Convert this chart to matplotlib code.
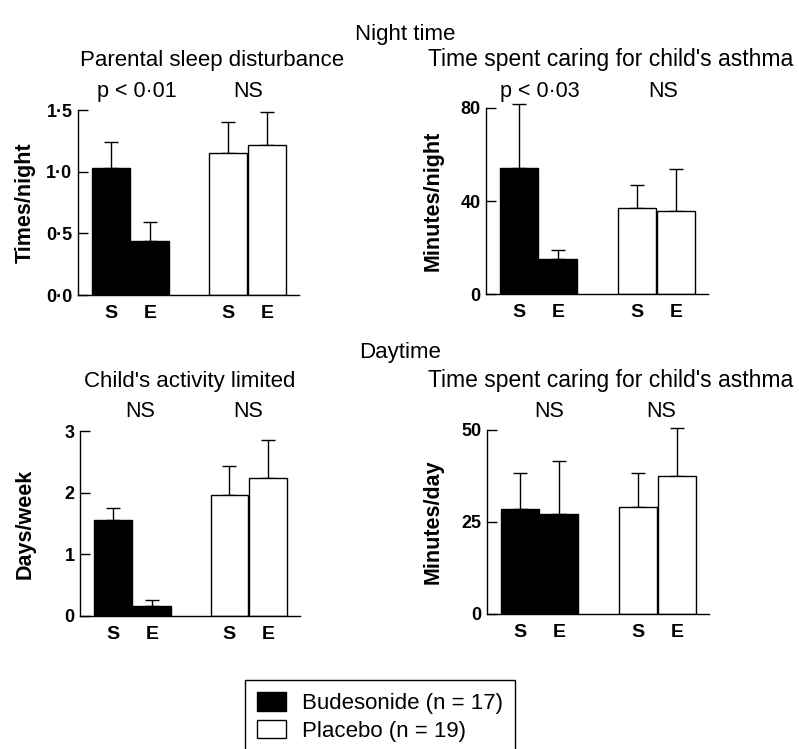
import matplotlib
matplotlib.use('Agg')
import matplotlib.pyplot as plt
import numpy as np

plt.rcParams['font.family'] = ['Liberation Sans', 'DejaVu Sans']

# ---------------- data ----------------
categories = ['S', 'E', 'S', 'E']
groups = ['Budesonide (n = 17)', 'Placebo (n = 19)']
bar_colors = ['black', 'black', 'white', 'white']

sleep_mean = [1.03, 0.435, 1.15, 1.22]
sleep_upper = [1.24, 0.59, 1.405, 1.48]
sleep_ticks = [0.0, 0.5, 1.0, 1.5]
sleep_ticklabels = ['0·0', '0·5', '1·0', '1·5']

night_care_mean = [54.4, 14.9, 36.8, 35.5]
night_care_upper = [81.9, 19.1, 46.7, 53.9]
night_care_ticks = [0, 40, 80]

activity_mean = [1.56, 0.17, 1.96, 2.23]
activity_upper = [1.75, 0.26, 2.44, 2.85]
activity_ticks = [0, 1, 2, 3]

day_care_mean = [28.6, 27.1, 29.1, 37.5]
day_care_upper = [38.2, 41.7, 38.3, 50.5]
day_care_ticks = [0, 25, 50]

W, H = 799, 749
fig = plt.figure(figsize=(W / 100, H / 100), dpi=100)

xpos = np.array([0, 1, 3, 4])


def panel(rect_px, mean, upper, ticks, ticklabels, ylim, ylabel, ylabel_x):
    x0, y0, x1, y1 = rect_px
    ax = fig.add_axes([x0 / W, 1 - y1 / H, (x1 - x0) / W, (y1 - y0) / H])
    bars = ax.bar(xpos, mean, width=0.97, color=bar_colors, edgecolor='black',
                  linewidth=1.0, zorder=2)
    lower = np.zeros(len(mean))
    up = np.array(upper) - np.array(mean)
    eb = ax.errorbar(xpos, mean, yerr=[lower, up], fmt='none', ecolor='black',
                     elinewidth=1.0, capsize=5, capthick=1.0, zorder=1)
    for art in eb.get_children():
        art.set_clip_on(False)
    ax.set_xlim(-0.85, 4.82)
    ax.set_ylim(*ylim)
    ax.spines['top'].set_visible(False)
    ax.spines['right'].set_visible(False)
    ax.spines['left'].set_linewidth(1.0)
    ax.spines['bottom'].set_linewidth(1.0)
    ax.set_yticks(ticks)
    ax.set_yticklabels(ticklabels)
    ax.tick_params(axis='y', direction='in', length=7.5, width=1.0, pad=4,
                   labelsize=13)
    ax.set_xticks(xpos)
    ax.set_xticklabels(categories)
    ax.tick_params(axis='x', length=0, pad=7, labelsize=14)
    for lab in ax.get_yticklabels() + ax.get_xticklabels():
        lab.set_fontweight('bold')
    cy = (y0 + y1) / 2
    fig.text(ylabel_x / W, 1 - cy / H, ylabel, rotation=90, ha='center',
             va='center', fontsize=15.5, fontweight='bold')
    return bars


b1 = panel((78, 110, 299, 295), sleep_mean, sleep_upper, sleep_ticks,
           sleep_ticklabels, (0, 1.5), 'Times/night', 25)
panel((486, 108, 708, 294), night_care_mean, night_care_upper,
      night_care_ticks, [str(t) for t in night_care_ticks], (0, 80),
      'Minutes/night', 433)
panel((80, 431, 300, 616), activity_mean, activity_upper, activity_ticks,
      [str(t) for t in activity_ticks], (0, 3), 'Days/week', 25)
panel((487, 430, 709, 614), day_care_mean, day_care_upper, day_care_ticks,
      [str(t) for t in day_care_ticks], (0, 50), 'Minutes/day', 433)


def ftext(x, y, s, ha='center', size=16, weight='normal'):
    fig.text(x / W, 1 - y / H, s, ha=ha, va='baseline', fontsize=size,
             fontweight=weight)


ftext(405, 40, 'Night time')
ftext(212, 66, 'Parental sleep disturbance')
ftext(428, 66, "Time spent caring for child's asthma", ha='left', size=16.5)
ftext(137, 97, 'p < 0·01', size=15.5)
ftext(248, 97, 'NS', size=15.5)
ftext(540, 97, 'p < 0·03', size=15.5)
ftext(663, 97, 'NS', size=15.5)

ftext(400, 358, 'Daytime')
ftext(190, 387, "Child's activity limited")
ftext(428, 387, "Time spent caring for child's asthma", ha='left', size=16.5)
ftext(140, 417, 'NS', size=15.5)
ftext(248, 417, 'NS', size=15.5)
ftext(549, 417, 'NS', size=15.5)
ftext(661, 417, 'NS', size=15.5)

leg = fig.legend(handles=[b1.patches[0], b1.patches[2]], labels=groups,
                 loc='upper left', bbox_to_anchor=(245 / W, 1 - 680 / H),
                 frameon=True, fancybox=False, edgecolor='black',
                 framealpha=1, fontsize=16, handlelength=1.3,
                 handleheight=0.9, handletextpad=0.7, borderpad=0.55,
                 labelspacing=0.25, borderaxespad=0)
leg.get_frame().set_linewidth(1.0)

fig.savefig('out.png', dpi=100)
